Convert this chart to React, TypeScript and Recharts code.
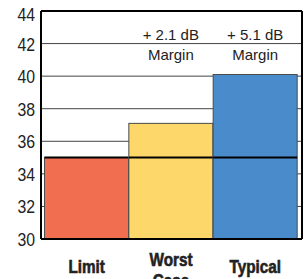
import { BarChart, Bar, XAxis, YAxis, CartesianGrid, Cell, LabelList, ReferenceLine } from 'recharts';

const categories = ['Limit', 'Worst Case', 'Typical'];
const levels = [35, 37.1, 40.1];
const marginNotes = ['', '+ 2.1 dB', '+ 5.1 dB'];
const yTicks = [30, 32, 34, 36, 38, 40, 42, 44];
const LIMIT = 35;
const Y_MIN = 30;
const Y_MAX = 44;

const COLORS = ['#F26E50', '#FED76A', '#4A8CCB'];
const FONT = '"Liberation Sans", Arial, sans-serif';

const data = categories.map((name, i) => ({ name, level: levels[i], note: marginNotes[i] }));

// bar with the limit line drawn across its width
function LimitBar(props: any) {
  const { x, y, width, height, fill, payload } = props;
  const bottom = y + height;
  const perUnit = height / (payload.level - Y_MIN);
  const ly = bottom - (LIMIT - Y_MIN) * perUnit;
  return (
    <g>
      <rect x={x} y={y} width={width} height={height} fill={fill} stroke="#4a4a4a" strokeWidth={1} />
      <line x1={x} x2={x + width} y1={ly} y2={ly} stroke="#000" strokeWidth={2} />
    </g>
  );
}

function YTick({ x, y, payload }: any) {
  const dy = payload.value === Y_MAX ? 10 : 7;
  return (
    <text transform={`translate(${x + 2},${y + dy}) scale(0.88,1)`} textAnchor="end"
      fontFamily={FONT} fontSize={18} fill="#222">
      {payload.value}
    </text>
  );
}

function XTick({ x, y, payload }: any) {
  const words = String(payload.value).split(' ');
  const first = words.length > 1 ? 19 : 26;
  return (
    <g transform={`translate(${x},${y}) scale(0.85,1)`}>
      <text textAnchor="middle" fontFamily={FONT} fontSize={18} fontWeight="bold" fill="#222"
        stroke="#222" strokeWidth={0.6}>
        {words.map((w, i) => (
          <tspan key={i} x={0} y={first + i * 21}>{w}</tspan>
        ))}
      </text>
    </g>
  );
}

function MarginNote(props: any) {
  const { x, width, value } = props;
  if (!value) return null;
  const cx = x + width / 2;
  return (
    <text textAnchor="middle" fontFamily={FONT} fontSize={15} fill="#222">
      <tspan x={cx} y={40}>{value}</tspan>
      <tspan x={cx} y={60}>Margin</tspan>
    </text>
  );
}

export default function App() {
  return (
    <div style={{ position: 'absolute', left: 0, top: 0, background: '#fff' }}>
      <BarChart width={304} height={279} data={data} barCategoryGap={0} barGap={0}
        margin={{ top: 11, right: 1, bottom: 0, left: 0 }}>
        <CartesianGrid vertical={false} stroke="#444" strokeWidth={1} />
        <XAxis dataKey="name" height={40} padding={{ left: 3.5, right: 4.5 }} tickLine={false}
          axisLine={{ stroke: '#000', strokeWidth: 2 }} tick={<XTick />} interval={0} />
        <YAxis domain={[Y_MIN, Y_MAX]} ticks={yTicks} width={41} tickLine={false}
          axisLine={{ stroke: '#000', strokeWidth: 2 }} tick={<YTick />} />
        <YAxis yAxisId="right" orientation="right" domain={[Y_MIN, Y_MAX]} width={1} tick={false}
          tickLine={false} axisLine={{ stroke: '#000', strokeWidth: 2 }} />
        <ReferenceLine y={Y_MAX} stroke="#000" strokeWidth={2} />
        <Bar dataKey="level" isAnimationActive={false} shape={<LimitBar />}>
          {data.map((d, i) => <Cell key={d.name} fill={COLORS[i]} />)}
          <LabelList dataKey="note" content={<MarginNote />} />
        </Bar>
      </BarChart>
    </div>
  );
}
